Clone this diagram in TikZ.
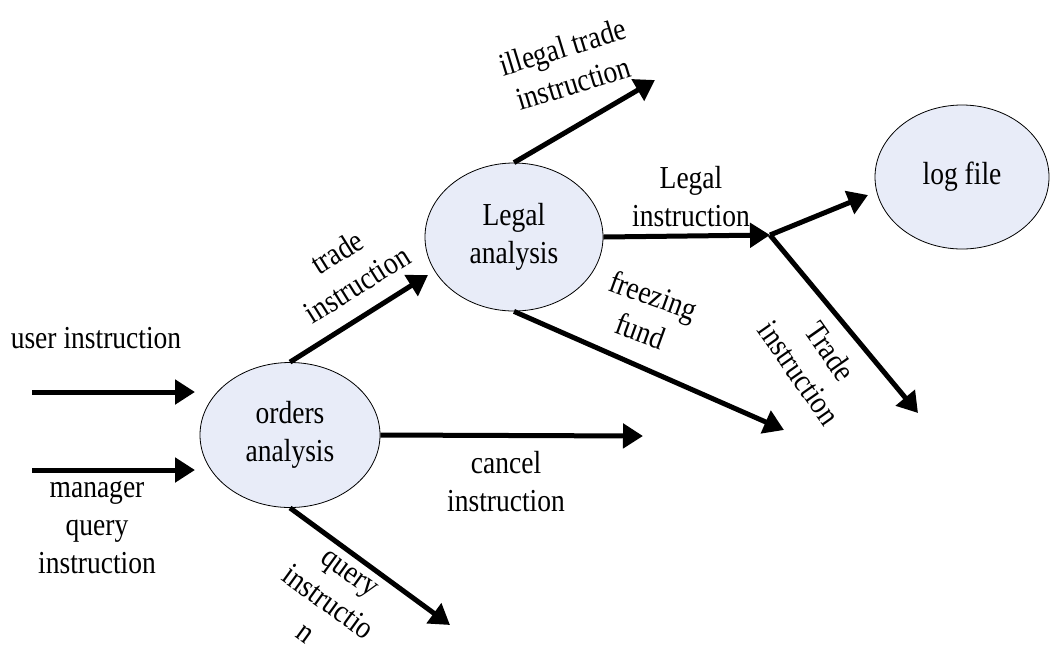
\documentclass[tikz,border=0pt]{standalone}
\usepackage{fontspec}
\setmainfont{Liberation Serif}[FakeStretch=0.86]
\usetikzlibrary{shapes.geometric,arrows.meta}
\definecolor{bubble}{RGB}{232,236,248}
\begin{document}
\begin{tikzpicture}[x=1pt,y=-1pt,
  every node/.style={font=\fontsize{32}{38}\selectfont, align=center, inner sep=0pt},
  proc/.style={ellipse, draw=black, line width=0.8pt, fill=bubble},
  flow/.style={line width=5pt, -{Triangle[length=20pt,width=24pt]}}]
\useasboundingbox (0,0) rectangle (1051,649);

% processes
\node[proc, minimum width=180pt, minimum height=145pt] (orders) at (290,435) {orders\\analysis};
\node[proc, minimum width=178pt, minimum height=148pt] (legal) at (514,237) {Legal\\analysis};
\node[proc, minimum width=174pt, minimum height=144pt] (log) at (962,177) {log file};

% free arrow ends
\coordinate (userS) at (32,392);
\coordinate (userT) at (195,392);
\coordinate (mgrS) at (32,470);
\coordinate (mgrT) at (195,470);
\coordinate (tradeT) at (428,275);
\coordinate (cancelT) at (643,436);
\coordinate (queryT) at (450,625);
\coordinate (illegalT) at (655,80);
\coordinate (freezeT) at (784,430);
\coordinate (J) at (770,235);
\coordinate (logT) at (868,195);
\coordinate (execT) at (918,413);

% connectors
\draw[flow] (userS) -- (userT);
\draw[flow] (mgrS) -- (mgrT);
\draw[flow] (orders.north) -- (tradeT);
\draw[flow] (orders.east) -- (cancelT);
\draw[flow] (orders.south) -- (queryT);
\draw[flow] (legal.north) -- (illegalT);
\draw[flow] (legal.south) -- (freezeT);
\draw[flow] (legal.east) -- (J);
\draw[flow] (J) -- (logT);
\draw[flow] (J) -- (execT);

% labels
\node (lUser) at (96,338) {user instruction};
\node (lMgr) at (97,527) {manager\\query\\instruction};
\node[rotate=32] (lTrade) at (347,268) {trade\\instruction};
\node[rotate=17] (lIllegal) at (568,65) {illegal trade\\instruction};
\node (lLegal) at (691,197) {Legal\\instruction};
\node[rotate=-20] (lFreeze) at (647,313) {freezing\\fund};
\node[rotate=-55] (lExec) at (815,362) {Trade\\instruction};
\node (lCancel) at (506,482) {cancel\\instruction};
\node[rotate=-36] (lQuery) at (327,604) {query\\instructio\\n};
\end{tikzpicture}
\end{document}
